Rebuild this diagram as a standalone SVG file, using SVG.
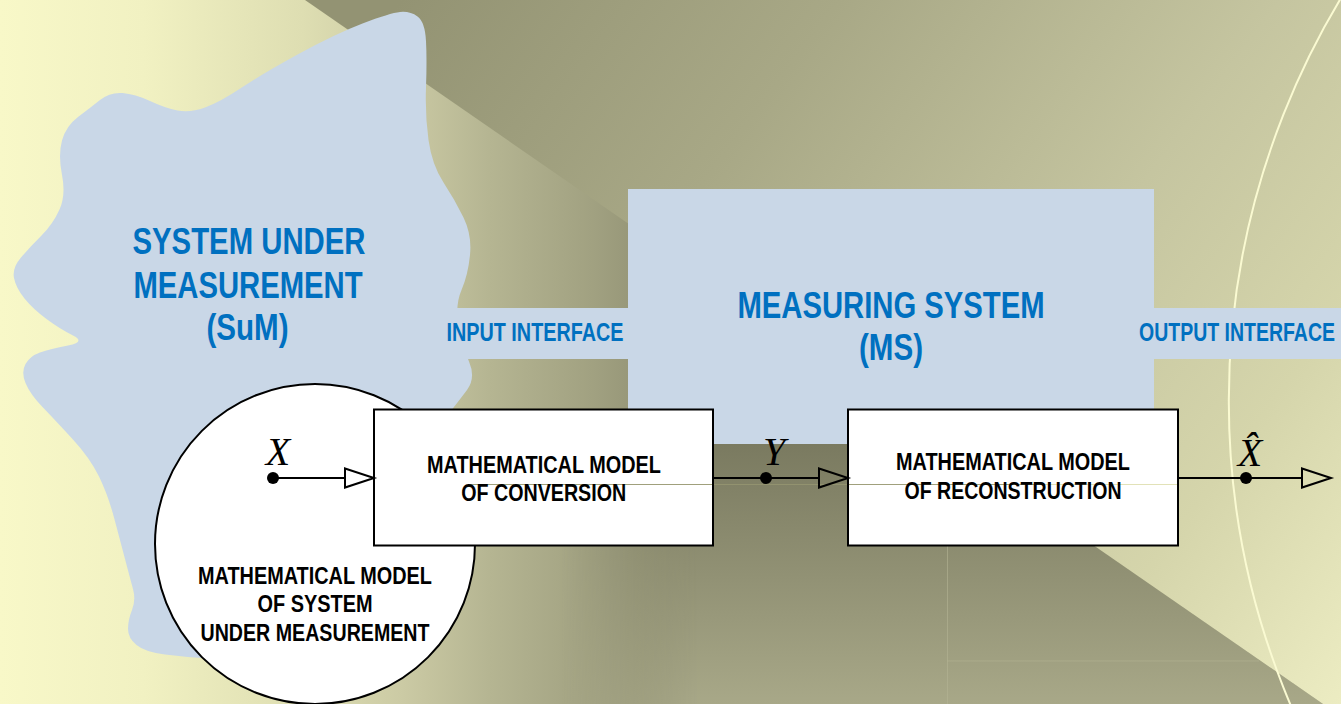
<svg xmlns="http://www.w3.org/2000/svg" width="1341" height="704" viewBox="0 0 1341 704">
<defs>
<style>
.blue{font-family:"Liberation Sans",Arial,sans-serif;font-weight:bold;fill:#0070c0;text-anchor:middle}
.big{font-size:36px}
.small{font-size:25px}
.lbl{font-family:"Liberation Sans",Arial,sans-serif;font-weight:bold;font-size:24.5px;fill:#000;text-anchor:middle}
.var{font-family:"Liberation Serif","Times New Roman",serif;font-style:italic;font-size:40px;fill:#000;text-anchor:middle}
.shape{fill:#c9d7e7}
.box{fill:#fff;stroke:#000;stroke-width:2}
.conn{stroke:#000;stroke-width:2;fill:none}
.seam{stroke-width:1;fill:none}
</style>
<linearGradient id="gB" gradientUnits="userSpaceOnUse" x1="0" y1="0" x2="720" y2="0">
<stop offset="0" stop-color="#f8f8c8"/>
<stop offset="0.2" stop-color="#f1f1c2"/>
<stop offset="0.42" stop-color="#dedeb2"/>
<stop offset="0.56" stop-color="#cbcaa4"/>
<stop offset="0.68" stop-color="#b5b592"/>
<stop offset="0.83" stop-color="#a0a080"/>
<stop offset="0.9" stop-color="#939375"/>
<stop offset="1" stop-color="#86866b"/>
</linearGradient>
<linearGradient id="gV" gradientUnits="userSpaceOnUse" x1="0" y1="444" x2="0" y2="704">
<stop offset="0" stop-color="#7a7a60"/>
<stop offset="1" stop-color="#a8a888"/>
</linearGradient>
<linearGradient id="gFade" gradientUnits="userSpaceOnUse" x1="560" y1="0" x2="700" y2="0">
<stop offset="0" stop-color="#fff" stop-opacity="0"/>
<stop offset="1" stop-color="#fff" stop-opacity="1"/>
</linearGradient>
<mask id="mFade" maskUnits="userSpaceOnUse" x="0" y="0" width="1341" height="704">
<rect x="0" y="0" width="1341" height="704" fill="url(#gFade)"/>
</mask>
<linearGradient id="gA" gradientUnits="userSpaceOnUse" x1="400" y1="0" x2="1341" y2="704">
<stop offset="0" stop-color="#939373"/>
<stop offset="0.3" stop-color="#a8a886"/>
<stop offset="0.6" stop-color="#c5c5a0"/>
<stop offset="0.8" stop-color="#d5d5ab"/>
<stop offset="1" stop-color="#ececc2"/>
</linearGradient>
<marker id="tri" markerUnits="userSpaceOnUse" markerWidth="34" markerHeight="24" viewBox="0 0 34 24" refX="1" refY="12" orient="auto" overflow="visible">
<path d="M1,2.5 L30,12 L1,21.5 Z" fill="none" stroke="#000" stroke-width="2"/>
</marker>
</defs>

<g id="background">
<rect x="0" y="0" width="1341" height="704" fill="url(#gB)"/>
<polygon points="540,444 947,444 1323,704 540,704" fill="url(#gV)" mask="url(#mFade)"/>
<polygon points="305,0 1341,0 1341,704 1323,704" fill="url(#gA)"/>
<circle cx="2007.5" cy="401" r="778.7" fill="none" stroke="#fafad2" stroke-width="2"/>
<line class="seam" x1="947.5" y1="545" x2="947.5" y2="704" stroke="#b4b494" stroke-opacity="0.6"/>
<line class="seam" x1="947" y1="661" x2="1259" y2="661" stroke="#b4b494" stroke-opacity="0.6"/>
</g>

<g id="sum">
<path class="shape" d="M400,12 Q410,11 417.5,16.5 Q425,22 426,41 Q427,60 426,87.5 Q425,115 428.5,140 Q432,165 443.5,182.5 Q455,200 463.5,217.5 Q472,235 470,255 Q468,275 461.5,290 Q455,305 458.5,325 Q462,345 469,361.5 Q476,378 467,390 Q458,402 439,426 Q420,450 390,500 Q360,550 325,590 Q290,630 260,645 Q230,660 207.5,658.5 Q185,657 165,654.5 Q145,652 136.5,645 Q128,638 128,629 Q128,620 132,610 Q136,600 133,589 Q130,578 125,559 Q120,540 114,517.5 Q108,495 99,476.5 Q90,458 72.5,439 Q55,420 42.5,407 Q30,394 25.5,383 Q21,372 25.5,364 Q30,356 40,352.5 Q50,349 68,345.5 Q86,342 73,335.5 Q60,329 46.5,319 Q33,309 24.5,298.5 Q16,288 14,278 Q12,268 21,257.5 Q30,247 41.5,235.5 Q53,224 59.5,209.5 Q66,195 62,175 Q58,155 62,140.5 Q66,126 78,117 Q90,108 100,100 Q110,92 122.5,93 Q135,94 150,101 Q165,108 177.5,110.5 Q190,113 205,107.5 Q220,102 241,88 Q262,74 298.5,54 Q335,34 362.5,23.5 Q390,13 400,12 Z"/>
<text class="blue big" x="249" y="254" textLength="233" lengthAdjust="spacingAndGlyphs">SYSTEM UNDER</text>
<text class="blue big" x="248" y="297.5" textLength="229" lengthAdjust="spacingAndGlyphs">MEASUREMENT</text>
<text class="blue big" x="247.5" y="339.5" textLength="82" lengthAdjust="spacingAndGlyphs">(SuM)</text>
</g>

<g id="ms">
<path class="shape" d="M440,308 H628 V189 H1154 V308 H1341 V359 H1154 V444 H628 V359 H440 Z"/>
<text class="blue small" x="535" y="341" textLength="177" lengthAdjust="spacingAndGlyphs">INPUT INTERFACE</text>
<text class="blue big" x="891" y="317.5" textLength="307" lengthAdjust="spacingAndGlyphs">MEASURING SYSTEM</text>
<text class="blue big" x="891" y="359.5" textLength="64" lengthAdjust="spacingAndGlyphs">(MS)</text>
<text class="blue small" transform="translate(1237,341) scale(0.78,1)" x="0" y="0">OUTPUT INTERFACE</text>
</g>

<g id="model-sum">
<circle cx="315" cy="544" r="160" fill="#fff" stroke="#000" stroke-width="2"/>
<text class="lbl" x="315" y="584" textLength="234" lengthAdjust="spacingAndGlyphs">MATHEMATICAL MODEL</text>
<text class="lbl" x="315" y="612" textLength="115" lengthAdjust="spacingAndGlyphs">OF SYSTEM</text>
<text class="lbl" x="315" y="641" textLength="229" lengthAdjust="spacingAndGlyphs">UNDER MEASUREMENT</text>
</g>

<g id="conversion">
<rect class="box" x="374" y="409.5" width="339" height="136"/>
<line class="seam" x1="470" y1="484.5" x2="712" y2="484.5" stroke="#a0a07c"/>
<text class="lbl" x="544" y="473" textLength="234" lengthAdjust="spacingAndGlyphs">MATHEMATICAL MODEL</text>
<text class="lbl" x="543.7" y="501" textLength="165" lengthAdjust="spacingAndGlyphs">OF CONVERSION</text>
</g>

<g id="reconstruction">
<rect class="box" x="848" y="409.5" width="330" height="136"/>
<line class="seam" x1="849" y1="484.5" x2="1042" y2="484.5" stroke="#a0a07c"/>
<line class="seam" x1="1042" y1="484.5" x2="1177" y2="484.5" stroke="#e2e2b8"/>
<text class="lbl" x="1013" y="470" textLength="234" lengthAdjust="spacingAndGlyphs">MATHEMATICAL MODEL</text>
<text class="lbl" x="1013" y="499" textLength="217" lengthAdjust="spacingAndGlyphs">OF RECONSTRUCTION</text>
</g>

<g id="connectors">
<line class="seam" x1="714" y1="484.5" x2="847" y2="484.5" stroke="#92926f"/>
<path class="conn" d="M273,478 H345" marker-end="url(#tri)"/>
<path class="conn" d="M713,478 H819" marker-end="url(#tri)"/>
<path class="conn" d="M1178,478 H1302" marker-end="url(#tri)"/>
<circle cx="273" cy="478" r="6"/>
<circle cx="766" cy="478" r="6"/>
<circle cx="1246" cy="478" r="6"/>
<text class="var" x="278" y="465">X</text>
<text class="var" x="774" y="465">Y</text>
<text class="var" x="1250" y="466">X̂</text>
</g>
</svg>
